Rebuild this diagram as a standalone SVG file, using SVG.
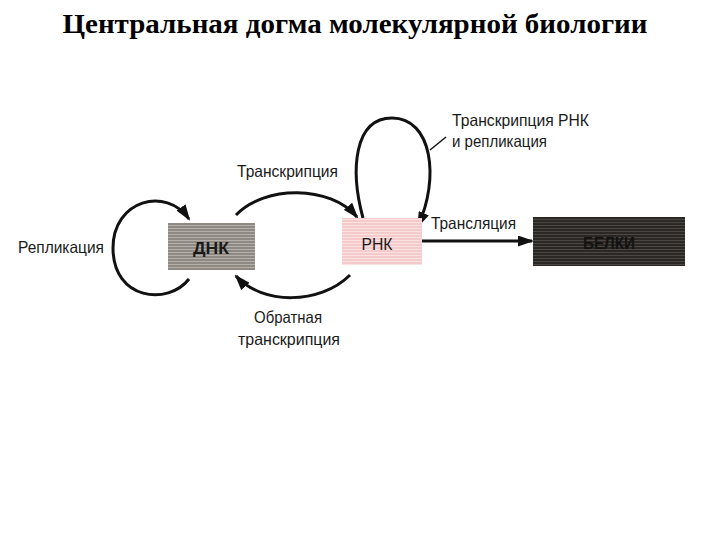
<svg xmlns="http://www.w3.org/2000/svg" width="720" height="540" viewBox="0 0 720 540">
<defs>
<style>
.lbl{font-family:"Liberation Sans","DejaVu Sans",sans-serif;font-size:16.5px;fill:#1a1a1a}
.conn{fill:none;stroke:#111;stroke-width:3}
</style>
<pattern id="pDNA" width="6" height="3" patternUnits="userSpaceOnUse">
<rect width="6" height="3" fill="#8e8983"/>
<rect y="0" width="6" height="1" fill="#b4afa9"/>
</pattern>
<pattern id="pRNA" width="6" height="3" patternUnits="userSpaceOnUse">
<rect width="6" height="3" fill="#f4caca"/>
<rect y="0" width="6" height="1" fill="#fbe2e2"/>
</pattern>
<pattern id="pProt" width="6" height="3" patternUnits="userSpaceOnUse">
<rect width="6" height="3" fill="#2a2725"/>
<rect y="0" width="6" height="1" fill="#4a4744"/>
</pattern>
<marker id="ah" viewBox="0 0 16 11" refX="14" refY="5.5" markerWidth="16" markerHeight="11" markerUnits="userSpaceOnUse" orient="auto">
<path d="M0,0 L16,5.5 L0,11 Z" fill="#111"/>
</marker>
</defs>
<rect width="720" height="540" fill="#fff"/>
<text x="355" y="33" text-anchor="middle" font-family="Liberation Serif,serif" font-weight="bold" font-size="27" fill="#000" textLength="585" lengthAdjust="spacingAndGlyphs">Центральная догма молекулярной биологии</text>

<g id="connectors">
<path class="conn" d="M189,279 C168,306 113,300 113,248 C113,200 166,186 189,219" marker-end="url(#ah)"/>
<path class="conn" d="M236,215 C265,185 330,185 357,217" marker-end="url(#ah)"/>
<path class="conn" d="M350,275 C320,305 262,305 236,276" marker-end="url(#ah)"/>
<path class="conn" d="M363,218 C350,170 354,118 392,118 C432,118 440,178 418,226" marker-end="url(#ah)"/>
<path class="conn" d="M421,241 L532,241" marker-end="url(#ah)"/>
<line x1="430" y1="150" x2="446" y2="137" stroke="#111" stroke-width="1.5"/>
</g>

<g id="dna">
<rect x="168" y="223" width="87" height="47" fill="url(#pDNA)"/>
<text class="lbl" x="211" y="254" text-anchor="middle" textLength="36" lengthAdjust="spacingAndGlyphs" style="font-weight:bold;font-size:17px">ДНК</text>
</g>
<g id="rna">
<rect x="342" y="218" width="80" height="47" fill="url(#pRNA)"/>
<text class="lbl" x="377" y="250" text-anchor="middle" textLength="31" lengthAdjust="spacingAndGlyphs">РНК</text>
</g>
<g id="protein">
<rect x="533" y="217" width="152" height="49" fill="url(#pProt)"/>
<text class="lbl" x="609" y="249" text-anchor="middle" textLength="52" lengthAdjust="spacingAndGlyphs" style="fill:#141312;font-weight:bold;font-size:17px">БЕЛКИ</text>
</g>

<g id="labels">
<text class="lbl" x="18" y="253" textLength="86" lengthAdjust="spacingAndGlyphs">Репликация</text>
<text class="lbl" x="237" y="177" textLength="101" lengthAdjust="spacingAndGlyphs">Транскрипция</text>
<text class="lbl" x="288" y="323" text-anchor="middle" textLength="68" lengthAdjust="spacingAndGlyphs">Обратная</text>
<text class="lbl" x="289" y="345" text-anchor="middle" textLength="102" lengthAdjust="spacingAndGlyphs">транскрипция</text>
<text class="lbl" x="452" y="126" textLength="137" lengthAdjust="spacingAndGlyphs">Транскрипция РНК</text>
<text class="lbl" x="452" y="147" textLength="95" lengthAdjust="spacingAndGlyphs">и репликация</text>
<text class="lbl" x="431" y="229" textLength="85" lengthAdjust="spacingAndGlyphs">Трансляция</text>
</g>
</svg>
